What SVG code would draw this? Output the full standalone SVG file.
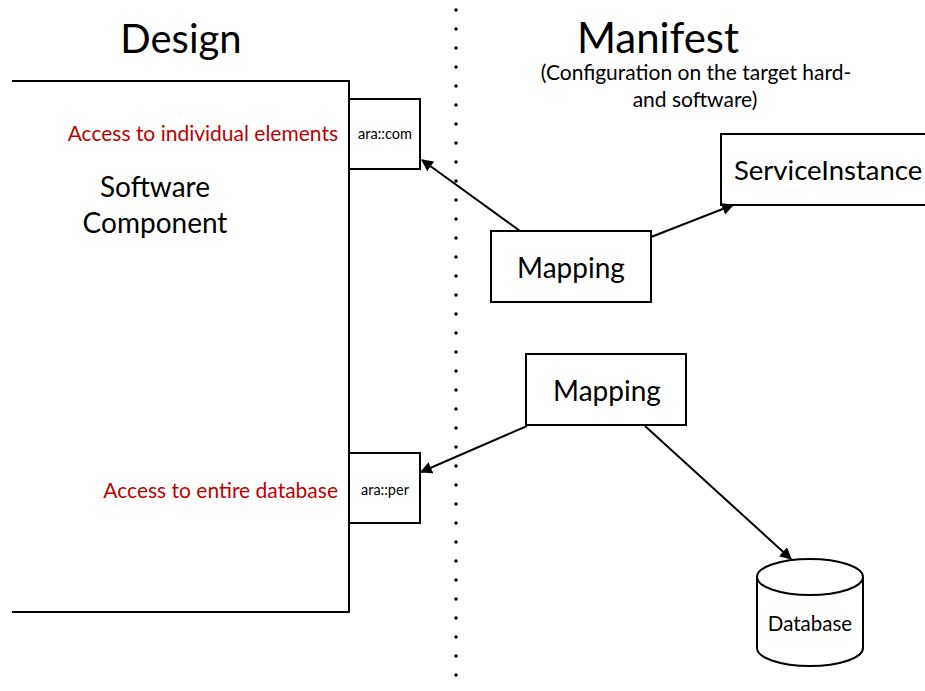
<svg xmlns="http://www.w3.org/2000/svg" width="925" height="691" viewBox="0 0 925 691">
<style>
.t{font-family:Lato,"Open Sans","Liberation Sans",sans-serif;fill:#000}
.box{fill:#fff;stroke:#000;stroke-width:2}
.ln{stroke:#000;stroke-width:2;fill:none}
.red{fill:#c00000}
</style>
<defs>
<marker id="ah" viewBox="0 0 10 10" refX="9" refY="5" markerWidth="6" markerHeight="6" markerUnits="strokeWidth" orient="auto">
<path d="M0,0 L10,5 L0,10 Z" fill="#000"/>
</marker>
</defs>
<line x1="456" y1="10" x2="456" y2="690" stroke="#000" stroke-width="3.5" stroke-linecap="round" stroke-dasharray="0 19"/>
<text class="t" x="181" y="53" font-size="40" text-anchor="middle">Design</text>
<text class="t" x="658" y="53" font-size="42" text-anchor="middle">Manifest</text>
<text class="t" x="696" y="80" font-size="21" text-anchor="middle">(Configuration on the target hard-</text>
<text class="t" x="695" y="107" font-size="21" text-anchor="middle">and software)</text>
<g id="software-component">
<path class="ln" d="M12,81 H349 V612 H12"/>
<text class="t" x="155" y="197" font-size="28" text-anchor="middle">Software</text>
<text class="t" x="155" y="233" font-size="28" text-anchor="middle">Component</text>
<text class="t red" x="338" y="141" font-size="21" text-anchor="end">Access to individual elements</text>
<text class="t red" x="338" y="498" font-size="21" text-anchor="end">Access to entire database</text>
</g>
<g id="ara-com">
<rect class="box" x="349" y="99" width="71" height="70"/>
<text class="t" x="385" y="139" font-size="14.5" text-anchor="middle">ara::com</text>
</g>
<g id="ara-per">
<rect class="box" x="349" y="453" width="71" height="70"/>
<text class="t" x="385" y="495" font-size="14.5" text-anchor="middle">ara::per</text>
</g>
<g id="service-instance">
<rect class="box" x="721" y="134" width="220" height="71"/>
<text class="t" x="734" y="180" font-size="27.5">ServiceInstance</text>
</g>
<g id="mapping1">
<rect class="box" x="491" y="231" width="160" height="71"/>
<text class="t" x="571" y="278" font-size="28" text-anchor="middle">Mapping</text>
</g>
<g id="mapping2">
<rect class="box" x="526" y="354" width="160" height="71"/>
<text class="t" x="607" y="401" font-size="28" text-anchor="middle">Mapping</text>
</g>
<g id="database">
<path class="box" d="M757,577 V648 A53,18 0 0 0 863,648 V577 A53,18 0 0 0 757,577 Z"/>
<path class="ln" d="M757,577 A53,18 0 0 0 863,577"/>
<text class="t" x="810" y="631" font-size="20.5" text-anchor="middle">Database</text>
</g>
<g id="connectors">
<line class="ln" x1="520" y1="231" x2="422" y2="160" marker-end="url(#ah)"/>
<line class="ln" x1="651" y1="237" x2="733" y2="205" marker-end="url(#ah)"/>
<line class="ln" x1="527" y1="426" x2="421" y2="472" marker-end="url(#ah)"/>
<line class="ln" x1="645" y1="426" x2="791" y2="559" marker-end="url(#ah)"/>
</g>
</svg>
